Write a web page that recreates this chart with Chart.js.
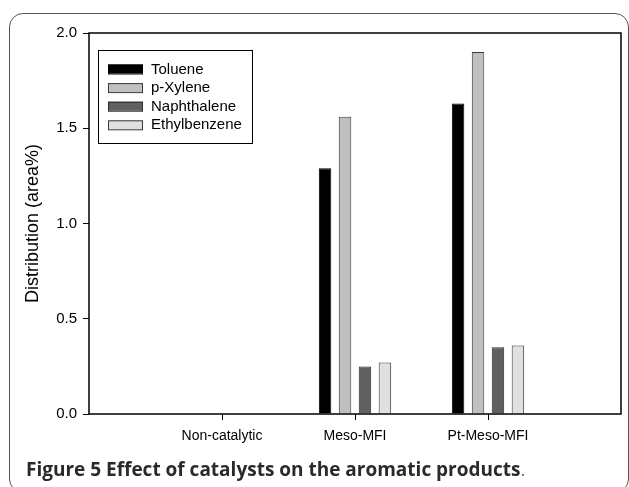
<!DOCTYPE html>
<html>
<head>
<meta charset="utf-8">
<script src="https://cdn.jsdelivr.net/npm/chart.js@4"></script>
<style>
    html, body { margin: 0; padding: 0; background: #fff; }
    body { width: 629px; height: 487px; position: relative; overflow: hidden; }
    #frame {
        position: absolute; left: 9px; top: 13px; width: 620px; height: 480px;
        border: 1.5px solid #555; border-radius: 14px; box-sizing: border-box;
    }
    #chart { position: absolute; left: 0; top: 0; }
    #caption {
        position: absolute; left: 26px; top: 458px; line-height: 22px;
        font-family: 'Open Sans', sans-serif; font-size: 19px; font-weight: 700; color: #2a2a2a;
        white-space: nowrap;
    }
    #caption .dot { font-weight: 400; color: #777; }
</style>
</head>
<body>
<div id="frame"></div>
<canvas id="chart" width="629" height="487"></canvas>
<div id="caption">Figure 5 Effect of catalysts on the aromatic products<span class="dot">.</span></div>
<script>
// Aromáticos por catalisador

const categories = ['Non-catalytic', 'Meso-MFI', 'Pt-Meso-MFI'];
const toluene = [0, 1.29, 1.63];
const pXylene = [0, 1.56, 1.90];
const naphthalene = [0, 0.25, 0.35];
const ethylbenzene = [0, 0.27, 0.36];
const yTicks = [0, 0.5, 1.0, 1.5, 2.0];

const FONT = "'Liberation Sans', Arial, sans-serif";

// categorias vazias nas pontas para o eixo ir de borda a borda
const labels = ['', ...categories, ''];
const pad = (arr) => [null, ...arr, null];

const series = [
    { label: 'Toluene', data: toluene, fill: '#000000', edge: '#000000' },
    { label: 'p-Xylene', data: pXylene, fill: '#c0c0c0', edge: '#3a3a3a' },
    { label: 'Naphthalene', data: naphthalene, fill: '#606060', edge: '#2a2a2a' },
    { label: 'Ethylbenzene', data: ethylbenzene, fill: '#e0e0e0', edge: '#3a3a3a' },
];

/** Moldura completa em volta da área do gráfico. */
const frameBox = {
    id: 'frameBox',
    afterDatasetsDraw(chart) {
        const { ctx, chartArea: a } = chart;
        ctx.save();
        ctx.strokeStyle = '#000';
        ctx.lineWidth = 1.5;
        ctx.strokeRect(a.left, a.top, a.right - a.left, a.bottom - a.top);
        ctx.restore();
    }
};

/** Legenda dentro do gráfico, com caixa. */
const innerLegend = {
    id: 'innerLegend',
    afterDraw(chart) {
        const { ctx, chartArea: a } = chart;
        const x = a.left + 9, y = a.top + 17, w = 154, h = 93;
        ctx.save();
        ctx.fillStyle = '#fff';
        ctx.fillRect(x, y, w, h);
        ctx.strokeStyle = '#000';
        ctx.lineWidth = 1;
        ctx.strokeRect(x + 0.5, y + 0.5, w, h);
        ctx.font = '15px ' + FONT;
        ctx.textBaseline = 'middle';
        chart.data.datasets.forEach((ds, i) => {
            const cy = y + 19 + i * 18.6;
            ctx.fillStyle = ds.backgroundColor;
            ctx.fillRect(x + 10, cy - 4.5, 35, 9);
            ctx.strokeStyle = ds.borderColor;
            ctx.strokeRect(x + 10.5, cy - 4, 34, 9);
            ctx.fillStyle = '#000';
            ctx.fillText(ds.label, x + 53, cy + 0.5);
        });
        ctx.restore();
    }
};

const ctx = document.getElementById('chart').getContext('2d');
new Chart(ctx, {
    type: 'bar',
    data: {
        labels,
        datasets: series.map((s) => ({
            label: s.label,
            data: pad(s.data),
            backgroundColor: s.fill,
            borderColor: s.edge,
            borderWidth: 1,
            categoryPercentage: 0.6,
            barPercentage: 0.625,
        }))
    },
    options: {
        responsive: false,
        animation: false,
        devicePixelRatio: 1,
        layout: { padding: { top: 33, right: 8, bottom: 0, left: 0 } },
        plugins: {
            legend: { display: false },
            tooltip: { enabled: false },
        },
        scales: {
            x: {
                offset: false,
                grid: {
                    offset: false,
                    drawOnChartArea: false,
                    tickLength: 6,
                    // sem traço nas pontas vazias
                    tickColor: (c) => (labels[c.index] ? '#000' : 'rgba(0,0,0,0)'),
                },
                border: { display: false },
                ticks: {
                    color: '#000',
                    padding: 8,
                    maxRotation: 0,
                    autoSkip: false,
                    font: { size: 14, family: FONT },
                },
                afterFit: (s) => { s.height = 73; },
            },
            y: {
                min: 0,
                max: 2,
                afterBuildTicks: (s) => { s.ticks = yTicks.map((v) => ({ value: v })); },
                grid: { drawOnChartArea: false, tickLength: 6, tickColor: '#000' },
                border: { display: false },
                ticks: {
                    color: '#000',
                    padding: 6,
                    font: { size: 15, family: FONT },
                    callback: (v) => Number(v).toFixed(1),
                },
                title: {
                    display: true,
                    text: 'Distribution (area%)',
                    color: '#000',
                    font: { size: 18, family: FONT },
                    padding: { top: 22, bottom: 0 },
                },
                afterFit: (s) => { s.width = 89; },
            },
        },
    },
    plugins: [frameBox, innerLegend],
});
</script>
</body>
</html>
